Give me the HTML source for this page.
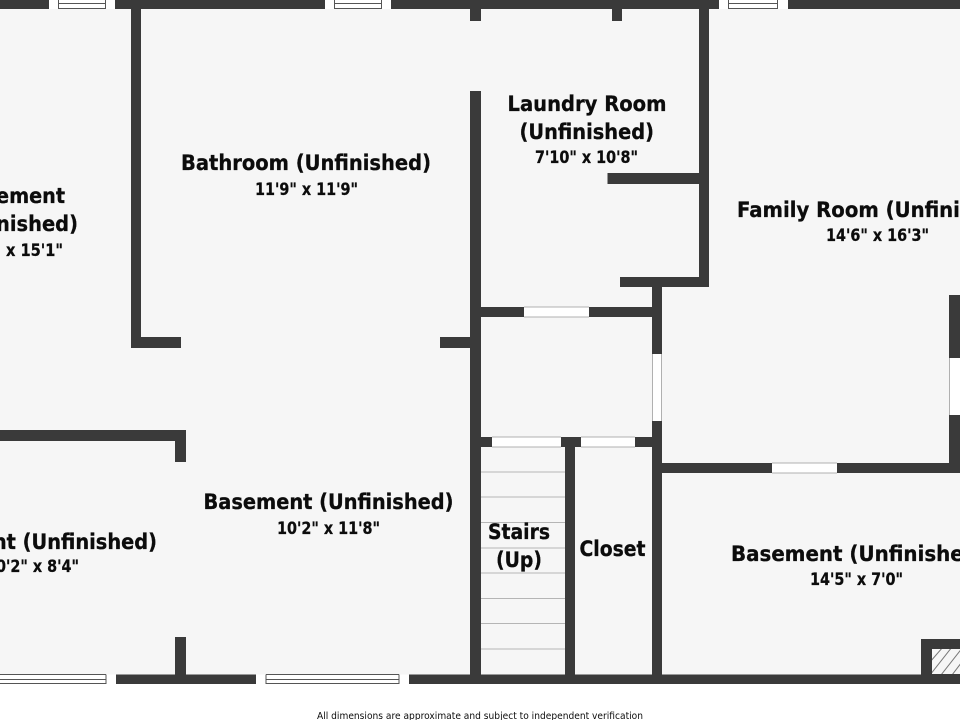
<!DOCTYPE html>
<html><head><meta charset="utf-8"><style>
html,body{margin:0;padding:0;background:#fff;width:960px;height:720px;overflow:hidden}
svg{display:block}
text{font-family:"DejaVu Sans",sans-serif;font-weight:bold;fill:#0c0c0c}
.n{font-size:21.500px;stroke:#0c0c0c;stroke-width:.3px}
.d{font-size:16.500px;stroke:#0c0c0c;stroke-width:.25px}
</style></head><body>
<svg width="960" height="720" viewBox="0 0 960 720" xmlns="http://www.w3.org/2000/svg">
<rect width="960" height="720" fill="#fff"/>
<rect width="960" height="684" fill="#f6f6f6"/>
<!-- stair treads -->
<g fill="#b5b5b5">
<rect x="481" y="471.500" width="84" height="1"/><rect x="481" y="496.500" width="84" height="1"/><rect x="481" y="522" width="84" height="1"/><rect x="481" y="547.500" width="84" height="1"/><rect x="481" y="572.500" width="84" height="1"/><rect x="481" y="598" width="84" height="1"/><rect x="481" y="623" width="84" height="1"/><rect x="481" y="648.500" width="84" height="1"/>
</g>
<!-- walls -->
<g fill="#3a3a3a">
<rect x="0" y="0" width="960" height="9"/>
<rect x="0" y="674.500" width="960" height="9.500"/>
<rect x="131" y="9" width="10" height="339"/>
<rect x="131" y="337" width="50" height="11"/>
<rect x="470" y="91" width="11" height="584"/>
<rect x="470" y="9" width="11" height="12"/>
<rect x="612" y="9" width="10" height="12"/>
<rect x="699" y="9" width="10" height="278"/>
<rect x="607.500" y="173" width="92" height="11"/>
<rect x="620" y="277" width="89" height="10"/>
<rect x="652" y="287" width="10" height="388"/>
<rect x="481" y="307" width="171" height="10"/>
<rect x="440" y="337" width="30" height="11"/>
<rect x="481" y="437" width="171" height="10"/>
<rect x="565" y="447" width="10" height="228"/>
<rect x="662" y="463" width="298" height="10"/>
<rect x="949" y="295" width="11" height="178"/>
<rect x="0" y="430" width="186" height="11"/>
<rect x="175" y="430" width="11" height="32"/>
<rect x="175" y="637" width="11" height="38"/>
<rect x="921" y="639" width="39" height="36"/>
</g>
<!-- chimney hatch -->
<svg x="932" y="649" width="28" height="25" viewBox="0 0 28 25">
<rect width="28" height="25" fill="#f6f6f6"/>
<g stroke="#777" stroke-width="1">
<path d="M-2 13L11 -2M-2 26L20 -2M9 26L31 -2M20 26L36 5"/>
</g>
</svg>
<!-- white openings -->
<g fill="#fff">
<rect x="524" y="307" width="65" height="10"/>
<rect x="652" y="354" width="10" height="67"/>
<rect x="492" y="437" width="69" height="10"/>
<rect x="581" y="437" width="54" height="10"/>
<rect x="772" y="463" width="65" height="10"/>
<rect x="949" y="358" width="11" height="57"/>
<rect x="49" y="0" width="66" height="9"/>
<rect x="325" y="0" width="66" height="9"/>
<rect x="719" y="0" width="69" height="9"/>
<rect x="0" y="674.500" width="116" height="9.500"/>
<rect x="256" y="674.500" width="153" height="9.500"/>
</g>
<g fill="#b0b0b0">
<rect x="524" y="316.500" width="65" height="1"/><rect x="524" y="306.500" width="65" height="1"/>
<rect x="652" y="354" width="1" height="67"/><rect x="661" y="354" width="1" height="67"/>
<rect x="492" y="446.500" width="69" height="1"/><rect x="492" y="436.500" width="69" height="1"/>
<rect x="581" y="446.500" width="54" height="1"/><rect x="581" y="436.500" width="54" height="1"/>
<rect x="772" y="462.500" width="65" height="1"/><rect x="772" y="472.500" width="65" height="1"/>
<rect x="949" y="358" width="1" height="57"/>
</g>
<!-- window sash lines -->
<g fill="none" stroke="#555" stroke-width="1">
<path d="M58.500 0V8.500H106M58.500 3.500H106M105.500 0V8.500"/>
<path d="M334.500 0V8.500H382M334.500 3.500H382M381.500 0V8.500"/>
<path d="M728.500 0V8.500H778M728.500 3.500H778M777.500 0V8.500"/>
<path d="M0 674.500H106M0 679.500H106M0 683.500H106M106 674.500V684"/>
<path d="M266 674.500H399M266 679.500H399M266 683.500H399M266 674.500V684M399 674.500V684"/>
</g>
<!-- labels -->
<text class="n" x="181" y="170" textLength="250" lengthAdjust="spacingAndGlyphs">Bathroom (Unfinished)</text>
<text class="d" x="255" y="195" textLength="103" lengthAdjust="spacingAndGlyphs">11'9" x 11'9"</text>
<text class="n" x="507.500" y="111" textLength="159" lengthAdjust="spacingAndGlyphs">Laundry Room</text>
<text class="n" x="519.500" y="139" textLength="134.500" lengthAdjust="spacingAndGlyphs">(Unfinished)</text>
<text class="d" x="535" y="163" textLength="103" lengthAdjust="spacingAndGlyphs">7'10" x 10'8"</text>
<text class="n" x="737" y="217" textLength="285" lengthAdjust="spacingAndGlyphs">Family Room (Unfinished)</text>
<text class="d" x="826" y="241" textLength="103" lengthAdjust="spacingAndGlyphs">14'6" x 16'3"</text>
<text class="n" x="-43" y="203" textLength="108" lengthAdjust="spacingAndGlyphs">Basement</text>
<text class="n" x="-57" y="231" textLength="135" lengthAdjust="spacingAndGlyphs">(Unfinished)</text>
<text class="d" x="6" y="256" textLength="57" lengthAdjust="spacingAndGlyphs">x 15'1"</text>
<text class="n" x="203.500" y="509" textLength="250" lengthAdjust="spacingAndGlyphs">Basement (Unfinished)</text>
<text class="d" x="277" y="534" textLength="103" lengthAdjust="spacingAndGlyphs">10'2" x 11'8"</text>
<text class="n" x="-93" y="549" textLength="250" lengthAdjust="spacingAndGlyphs">Basement (Unfinished)</text>
<text class="d" x="-14" y="572" textLength="93" lengthAdjust="spacingAndGlyphs">10'2" x 8'4"</text>
<text class="n" x="488" y="539" textLength="62" lengthAdjust="spacingAndGlyphs">Stairs</text>
<text class="n" x="496" y="567" textLength="46" lengthAdjust="spacingAndGlyphs">(Up)</text>
<text class="n" x="579.500" y="556" textLength="66" lengthAdjust="spacingAndGlyphs">Closet</text>
<text class="n" x="731" y="561" textLength="256" lengthAdjust="spacingAndGlyphs">Basement (Unfinished)</text>
<text class="d" x="810" y="585" textLength="93" lengthAdjust="spacingAndGlyphs">14'5" x 7'0"</text>
<text x="317" y="719" font-size="9.500" style="font-weight:normal" textLength="326" lengthAdjust="spacingAndGlyphs">All dimensions are approximate and subject to independent verification</text>
</svg>
</body></html>
